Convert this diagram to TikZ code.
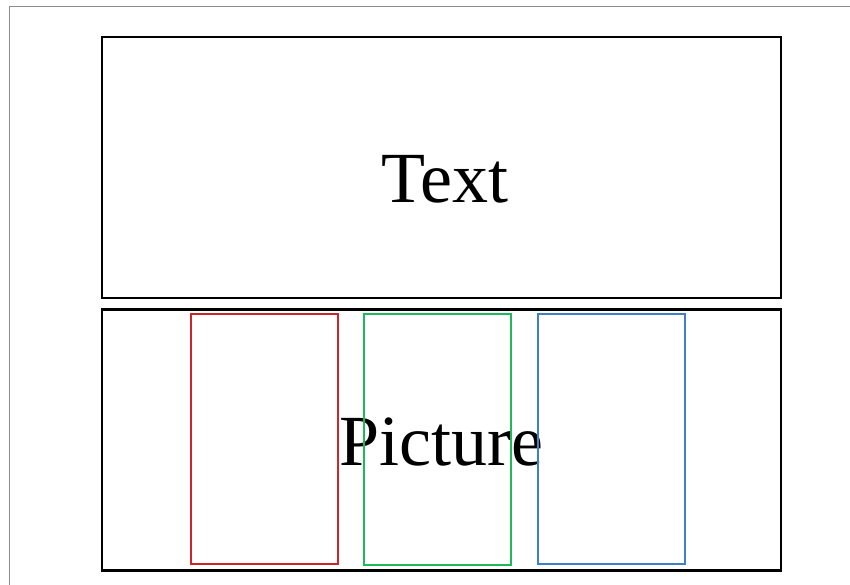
\documentclass[tikz,border=0pt]{standalone}
\usepackage{fontspec}
\setmainfont{Liberation Serif}
\usetikzlibrary{positioning}
\definecolor{colred}{RGB}{208,36,43}
\definecolor{colgreen}{RGB}{30,185,90}
\definecolor{colblue}{RGB}{62,128,200}
\definecolor{pagegray}{RGB}{140,140,140}

\begin{document}
\begin{tikzpicture}[x=1pt,y=-1pt,
    panel/.style={draw=black,line width=2.8pt,minimum width=679pt,minimum height=261pt,inner sep=0pt},
    column/.style={line width=2.4pt,minimum width=147pt,minimum height=250pt,inner sep=0pt},
    big/.style={font=\fontsize{72}{80}\selectfont,inner sep=0pt,anchor=base}]
    \useasboundingbox (0,0) rectangle (850,585);

    % page edge
    \draw[pagegray,line width=1.4pt] (9.5,585) -- (9.5,6.5) -- (850,6.5);

    % the two panels
    \node[panel] (textbox) at (441.5,167.5) {};
    \node[panel] (picbox) at (441.5,440) {};

    \node[big] (textlabel) at (444.5,203) {Text};
    \node[big] (piclabel) at (441.5,465) {Picture};

    % columns in the picture panel
    \node[column,draw=colred] (colA) at (264.5,439) {};
    \node[column,draw=colgreen,minimum height=251pt] (colB) at (437.5,439.5) {};
    \node[column,draw=colblue] (colC) at (611.5,439) {};
\end{tikzpicture}
\end{document}
